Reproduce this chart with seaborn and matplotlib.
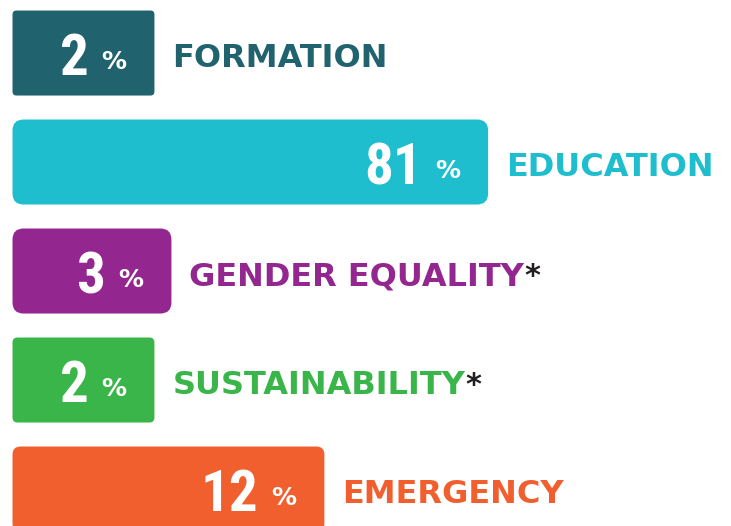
import matplotlib
matplotlib.use("Agg")
import matplotlib.pyplot as plt
import seaborn as sns
import pandas as pd
from matplotlib.patches import FancyBboxPatch
from matplotlib.transforms import IdentityTransform

# データ
categories = ["FORMATION", "EDUCATION", "GENDER EQUALITY", "SUSTAINABILITY", "EMERGENCY"]
values = [2, 81, 3, 2, 12]
has_note = [False, False, True, True, False]
colors = ["#21626f", "#1fbecf", "#93278f", "#3ab54a", "#f15f2e"]

# スタイル
BAR_BASE = -6.35          # 数値ラベル用の左余白（データ単位）
corner_radius = [4, 11, 11, 5, 8]
DPI = 100
NUM_FONT = ["Roboto Condensed", "Open Sans Condensed", "DejaVu Sans"]

sns.set_theme(style="white")
plt.rcParams["font.family"] = ["DejaVu Sans"]

df = pd.DataFrame({"category": categories, "value": values})

fig = plt.figure(figsize=(7.31, 5.26), dpi=DPI)
ax = fig.add_axes([0, -0.0333, 1, 1.0361])

sns.barplot(data=df, y="category", x="value", hue="category", palette=colors,
            orient="h", width=0.78, legend=False, ax=ax, saturation=1)

# 大きい値を圧縮するスケール
ax.set_xscale("symlog", base=10, linthresh=12, linscale=0.93)
ax.set_xlim(-7.086, 1378)
ax.set_ylim(4.5, -0.5)
ax.axis("off")

# 角丸の棒に置き換え
for patch in list(ax.patches):
    yc = patch.get_y() + patch.get_height() / 2
    i = int(round(yc))
    x1 = patch.get_x() + patch.get_width()
    (px0, py0) = ax.transData.transform((BAR_BASE, patch.get_y() + patch.get_height()))
    (px1, py1) = ax.transData.transform((x1, patch.get_y()))
    patch.remove()
    box = FancyBboxPatch((px0, py0), px1 - px0, py1 - py0,
                         boxstyle=f"round,pad=0,rounding_size={corner_radius[i]}",
                         facecolor=colors[i], edgecolor="none",
                         transform=IdentityTransform(), zorder=1)
    ax.add_patch(box)

ax.set_xlim(-7.086, 1378)
ax.set_ylim(4.5, -0.5)

px2pt = 72 / DPI
for i, (cat, v) in enumerate(zip(categories, values)):
    # 数値
    ax.annotate(f"{v}", xy=(v, i), xytext=(-66 * px2pt, -22 * px2pt),
                textcoords="offset points", ha="right", va="baseline",
                color="white", fontsize=41, fontweight="bold",
                fontstretch="condensed", family=NUM_FONT, zorder=5)
    ax.annotate("%", xy=(v, i), xytext=(-28 * px2pt, -16 * px2pt),
                textcoords="offset points", ha="right", va="baseline",
                color="white", fontsize=18, fontweight="bold", zorder=5)
    # カテゴリ名
    lab = ax.annotate(cat, xy=(v, i), xytext=(18 * px2pt, -14 * px2pt),
                      textcoords="offset points", ha="left", va="baseline",
                      color=colors[i], fontsize=23, fontweight="bold", zorder=5)
    if has_note[i]:
        ax.annotate("*", xy=(1, 1), xycoords=lab, xytext=(0, -1),
                    textcoords="offset points", ha="left", va="top",
                    color="#231f20", fontsize=22, fontweight="bold", zorder=5)

fig.savefig("out.png", dpi=DPI, facecolor="white")
